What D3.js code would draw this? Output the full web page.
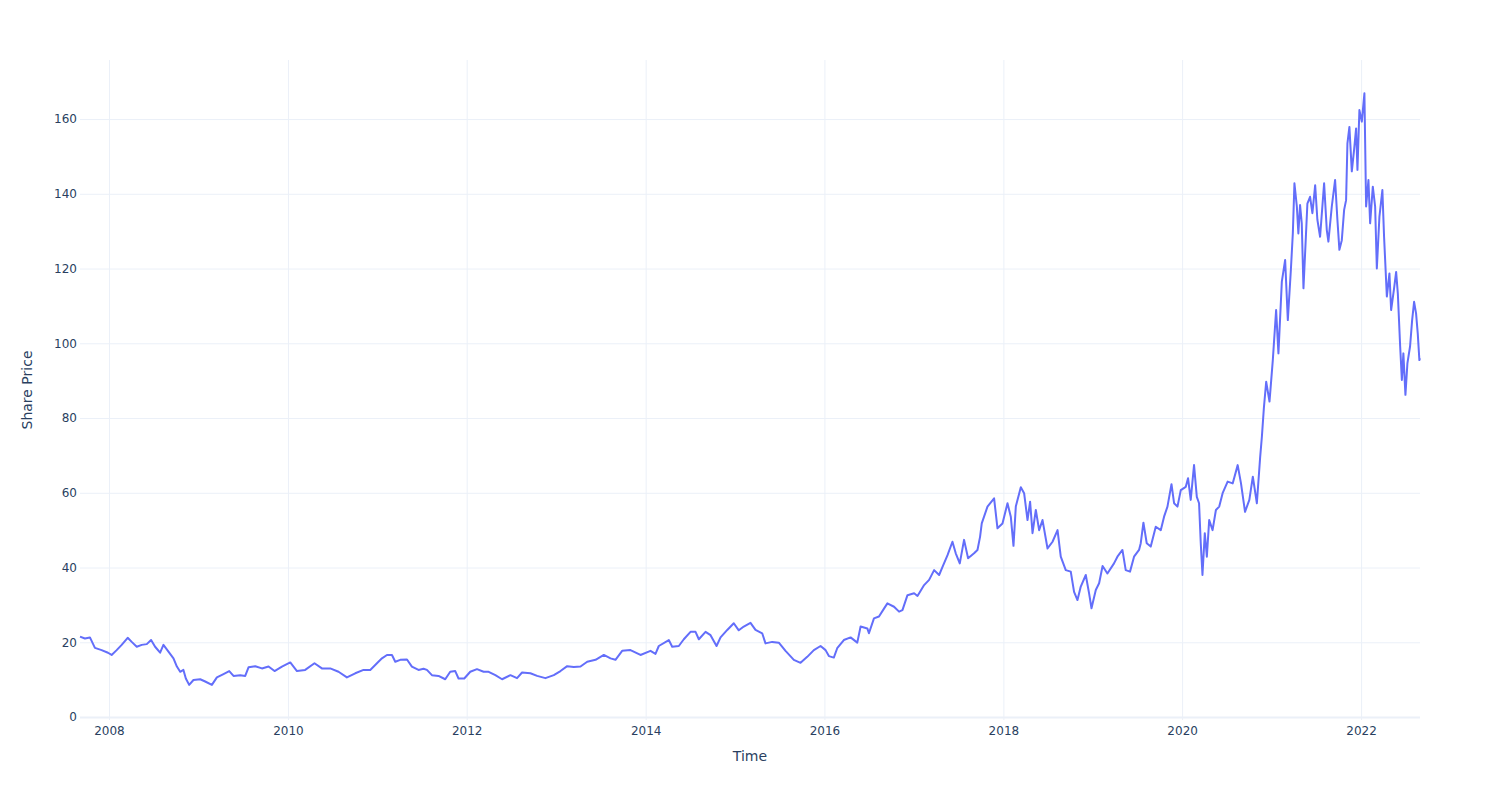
<!DOCTYPE html>
<html>
<head>
<meta charset="utf-8">
<script src="https://cdn.jsdelivr.net/npm/d3@7"></script>
<style>
  body { margin: 0; background: #fff; }
  svg { font-family: "DejaVu Sans", Verdana, sans-serif; }
</style>
</head>
<body>
<div id="chart"></div>
<script>
const width = 1500;
const height = 800;
const margin = { top: 60, right: 80, bottom: 80, left: 80 };

// trading dates as decimal years
const tradeYears = [
  2007.676, 2007.731, 2007.787, 2007.843, 2007.918, 2007.989, 2008.030, 2008.086,
  2008.142, 2008.209, 2008.254, 2008.310, 2008.366, 2008.422, 2008.470, 2008.515,
  2008.571, 2008.608, 2008.664, 2008.720, 2008.758, 2008.795, 2008.831, 2008.858,
  2008.895, 2008.943, 2009.018, 2009.074, 2009.149, 2009.205, 2009.279, 2009.343,
  2009.391, 2009.466, 2009.522, 2009.559, 2009.634, 2009.709, 2009.783, 2009.850,
  2009.933, 2010.026, 2010.101, 2010.193, 2010.297, 2010.380, 2010.473, 2010.566,
  2010.660, 2010.753, 2010.846, 2010.921, 2010.996, 2011.052, 2011.108, 2011.164,
  2011.201, 2011.257, 2011.332, 2011.387, 2011.461, 2011.517, 2011.555, 2011.611,
  2011.685, 2011.760, 2011.816, 2011.872, 2011.909, 2011.973, 2012.040, 2012.115,
  2012.189, 2012.245, 2012.320, 2012.395, 2012.488, 2012.562, 2012.618, 2012.711,
  2012.786, 2012.879, 2012.972, 2013.047, 2013.122, 2013.196, 2013.271, 2013.346,
  2013.439, 2013.532, 2013.607, 2013.662, 2013.737, 2013.830, 2013.942, 2014.054,
  2014.110, 2014.147, 2014.259, 2014.297, 2014.371, 2014.427, 2014.502, 2014.558,
  2014.595, 2014.670, 2014.726, 2014.793, 2014.838, 2014.913, 2014.986, 2015.042,
  2015.098, 2015.173, 2015.229, 2015.304, 2015.341, 2015.416, 2015.490, 2015.565,
  2015.658, 2015.733, 2015.808, 2015.882, 2015.957, 2016.013, 2016.050, 2016.105,
  2016.143, 2016.217, 2016.292, 2016.367, 2016.404, 2016.479, 2016.497, 2016.553,
  2016.609, 2016.665, 2016.703, 2016.777, 2016.833, 2016.871, 2016.927, 2017.001,
  2017.039, 2017.113, 2017.169, 2017.225, 2017.281, 2017.319, 2017.375, 2017.430,
  2017.467, 2017.512, 2017.560, 2017.605, 2017.672, 2017.710, 2017.739, 2017.758,
  2017.822, 2017.896, 2017.934, 2017.990, 2018.046, 2018.083, 2018.113, 2018.139,
  2018.195, 2018.232, 2018.270, 2018.299, 2018.326, 2018.363, 2018.400, 2018.438,
  2018.494, 2018.550, 2018.606, 2018.642, 2018.698, 2018.754, 2018.791, 2018.829,
  2018.866, 2018.922, 2018.959, 2018.986, 2019.034, 2019.071, 2019.110, 2019.164,
  2019.238, 2019.276, 2019.332, 2019.369, 2019.417, 2019.462, 2019.518, 2019.537,
  2019.567, 2019.604, 2019.649, 2019.705, 2019.761, 2019.798, 2019.836, 2019.881,
  2019.910, 2019.948, 2019.985, 2020.041, 2020.066, 2020.096, 2020.133, 2020.164,
  2020.189, 2020.208, 2020.227, 2020.253, 2020.276, 2020.302, 2020.340, 2020.377,
  2020.414, 2020.452, 2020.508, 2020.564, 2020.620, 2020.657, 2020.702, 2020.750,
  2020.789, 2020.834, 2020.871, 2020.890, 2020.912, 2020.938, 2020.975, 2021.012,
  2021.049, 2021.075, 2021.113, 2021.150, 2021.180, 2021.214, 2021.236, 2021.254,
  2021.281, 2021.298, 2021.317, 2021.336, 2021.355, 2021.382, 2021.399, 2021.429,
  2021.455, 2021.486, 2021.511, 2021.541, 2021.586, 2021.616, 2021.634, 2021.672,
  2021.709, 2021.735, 2021.757, 2021.784, 2021.810, 2021.832, 2021.847, 2021.869,
  2021.896, 2021.922, 2021.944, 2021.959, 2021.981, 2022.008, 2022.037, 2022.056,
  2022.082, 2022.101, 2022.131, 2022.157, 2022.176, 2022.205, 2022.238, 2022.257,
  2022.288, 2022.317, 2022.336, 2022.369, 2022.392, 2022.411, 2022.437, 2022.456,
  2022.473, 2022.496, 2022.518, 2022.548, 2022.571, 2022.593, 2022.615, 2022.634,
  2022.652, 2022.659
];

const prices = [
  21.5, 21.0, 21.3, 18.5, 17.9, 17.2, 16.6, 17.9,
  19.3, 21.2, 20.1, 18.8, 19.3, 19.5, 20.6, 18.8,
  17.2, 19.3, 17.5, 15.7, 13.5, 12.1, 12.6, 10.3,
  8.6, 9.9, 10.1, 9.5, 8.6, 10.6, 11.5, 12.3,
  11.0, 11.2, 11.0, 13.3, 13.6, 13.0, 13.5, 12.3,
  13.5, 14.6, 12.3, 12.6, 14.4, 13.0, 13.0, 12.1,
  10.6, 11.7, 12.6, 12.6, 14.4, 15.7, 16.6, 16.6,
  14.8, 15.3, 15.4, 13.5, 12.6, 12.9, 12.6, 11.2,
  11.0, 10.1, 12.1, 12.3, 10.3, 10.3, 12.1, 12.8,
  12.1, 12.1, 11.2, 10.1, 11.2, 10.4, 11.9, 11.7,
  11.0, 10.4, 11.2, 12.3, 13.6, 13.4, 13.5, 14.8,
  15.3, 16.6, 15.7, 15.3, 17.7, 17.9, 16.6, 17.7,
  16.9, 19.0, 20.6, 18.8, 19.0, 20.8, 22.8, 22.8,
  20.8, 22.8, 21.9, 19.0, 21.3, 23.3, 25.1, 23.2,
  24.2, 25.2, 23.3, 22.4, 19.7, 20.1, 19.9, 17.7,
  15.3, 14.5, 16.1, 17.9, 19.0, 17.9, 16.3, 15.9,
  18.4, 20.6, 21.3, 19.9, 24.2, 23.7, 22.4, 26.4,
  26.9, 29.0, 30.4, 29.5, 28.2, 28.6, 32.6, 33.1,
  32.4, 35.3, 36.7, 39.3, 38.0, 40.2, 43.3, 46.9,
  43.8, 41.1, 47.4, 42.5, 43.8, 44.7, 48.2, 51.8,
  56.3, 58.5, 50.5, 51.8, 57.2, 53.6, 45.8, 56.3,
  61.5, 59.9, 52.7, 57.6, 49.2, 55.4, 50.0, 52.7,
  45.1, 46.9, 50.0, 42.9, 39.3, 38.9, 33.5, 31.3,
  34.9, 38.0, 33.1, 29.1, 34.0, 35.8, 40.4, 38.4,
  41.1, 42.9, 44.7, 39.3, 38.9, 42.9, 44.7, 46.5,
  52.0, 46.5, 45.6, 50.9, 50.0, 53.6, 56.3, 62.3,
  57.2, 56.3, 60.7, 61.6, 63.9, 58.1, 67.4, 58.9,
  57.2, 46.5, 38.0, 49.2, 42.9, 52.7, 50.0, 55.4,
  56.3, 59.9, 63.0, 62.5, 67.4, 62.5, 54.9, 58.1,
  64.3, 57.2, 69.6, 75.0, 82.6, 89.7, 84.4, 95.5,
  108.9, 97.3, 116.5, 122.3, 106.2, 119.6, 129.4, 142.8,
  136.6, 129.4, 137.0, 132.1, 114.7, 128.5, 137.4, 139.2,
  134.8, 142.3, 133.0, 128.5, 142.8, 130.3, 127.2, 136.6,
  143.7, 133.0, 125.0, 127.6, 135.7, 138.3, 153.5, 157.9,
  146.0, 151.9, 157.5, 146.4, 162.4, 159.3, 166.9, 136.6,
  143.7, 132.1, 141.9, 136.6, 120.0, 133.9, 141.0, 128.5,
  112.5, 118.7, 108.9, 114.7, 119.1, 113.3, 99.2, 90.2,
  97.3, 86.2, 94.6, 99.2, 106.2, 111.1, 108.0, 102.6,
  95.5, 96.0
];

const yTicks = [0, 20, 40, 60, 80, 100, 120, 140, 160];
const yRange = [-0.8, 175.8];

const xTitle = "Time";
const yTitle = "Share Price";

// decimal year -> Date
function toDate(y) {
  const y0 = Math.floor(y);
  const start = new Date(y0, 0, 1);
  const end = new Date(y0 + 1, 0, 1);
  return new Date(+start + (y - y0) * (end - start));
}

const data = tradeYears.map((y, i) => ({ date: toDate(y), price: prices[i] }));

const svg = d3
  .select("#chart")
  .append("svg")
  .attr("width", width)
  .attr("height", height);

const xScale = d3
  .scaleTime()
  .domain(d3.extent(data, (d) => d.date))
  .range([margin.left, width - margin.right]);

const yScale = d3
  .scaleLinear()
  .domain(yRange)
  .range([height - margin.bottom, margin.top]);

const gridColor = "#ebf0f8";
const textColor = "#2a3f5f";

// x grid + labels
const xTicks = xScale.ticks(d3.timeYear.every(2));
const xAxis = d3
  .axisBottom(xScale)
  .tickValues(xTicks)
  .tickFormat(d3.timeFormat("%Y"))
  .tickSize(-(height - margin.top - margin.bottom))
  .tickPadding(6);
const gx = svg
  .append("g")
  .attr("transform", `translate(0, ${height - margin.bottom})`)
  .call(xAxis);
gx.select(".domain").remove();
gx.selectAll(".tick line").attr("stroke", gridColor);
gx.selectAll(".tick text")
  .attr("fill", textColor)
  .attr("font-size", 12)
  .attr("font-family", "DejaVu Sans, sans-serif");

// y grid + labels
const yAxis = d3
  .axisLeft(yScale)
  .tickValues(yTicks)
  .tickSize(-(width - margin.left - margin.right))
  .tickPadding(3);
const gy = svg
  .append("g")
  .attr("transform", `translate(${margin.left}, 0)`)
  .call(yAxis);
gy.select(".domain").remove();
gy.selectAll(".tick line")
  .attr("stroke", gridColor)
  .attr("stroke-width", (d) => (d === 0 ? 2 : 1));
gy.selectAll(".tick text")
  .attr("fill", textColor)
  .attr("font-size", 12)
  .attr("font-family", "DejaVu Sans, sans-serif");

// price line
const line = d3
  .line()
  .x((d) => xScale(d.date))
  .y((d) => yScale(d.price));

svg
  .append("path")
  .datum(data)
  .attr("fill", "none")
  .attr("stroke", "#636efa")
  .attr("stroke-width", 2)
  .attr("stroke-linejoin", "round")
  .attr("d", line);

// axis titles
svg
  .append("text")
  .attr("x", (margin.left + width - margin.right) / 2)
  .attr("y", 761)
  .attr("text-anchor", "middle")
  .attr("fill", textColor)
  .attr("font-size", 14)
  .text(xTitle);

svg
  .append("text")
  .attr("transform", `translate(32, ${(margin.top + height - margin.bottom) / 2}) rotate(-90)`)
  .attr("text-anchor", "middle")
  .attr("fill", textColor)
  .attr("font-size", 14)
  .text(yTitle);
</script>
</body>
</html>
